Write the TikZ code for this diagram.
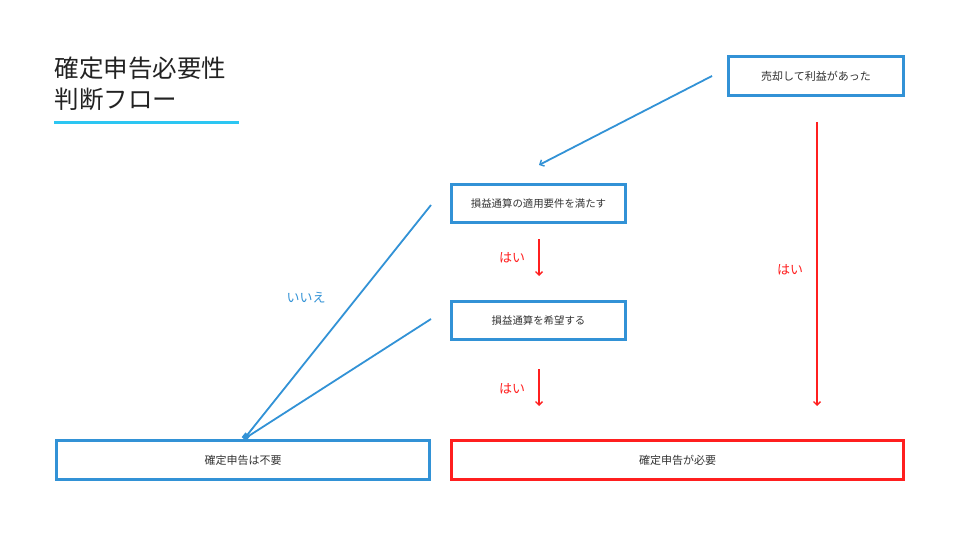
\documentclass[tikz,border=0pt]{standalone}
\usepackage{fontspec}
\setmainfont{Noto Sans CJK JP}
\usetikzlibrary{arrows.meta}
\definecolor{flowblue}{HTML}{3292D6}
\definecolor{flowred}{HTML}{FF1F1F}
\definecolor{flowcyan}{HTML}{2CC6F2}
\definecolor{flowtext}{HTML}{333333}
\definecolor{titletext}{HTML}{222222}
\tikzset{
  box/.style={draw=flowblue, line width=2.6pt, fill=white, text=flowtext,
    font=\fontsize{11}{13}\selectfont, inner sep=0pt, anchor=north west},
  smallbox/.style={box, font=\fontsize{10.4}{12}\selectfont},
  redbox/.style={box, draw=flowred},
  bluearrow/.style={draw=flowblue, line width=1.8pt, -{Straight Barb[length=3.5pt,width=7pt,line width=1.4pt]}},
  blueline/.style={draw=flowblue, line width=1.8pt},
  redarrow/.style={draw=flowred, line width=1.8pt, -{Straight Barb[length=3.5pt,width=7pt,line width=1.4pt]}},
  yeslabel/.style={text=flowred, font=\fontsize{13}{15}\selectfont},
  nolabel/.style={text=flowblue, font=\fontsize{13}{15}\selectfont},
  titlestyle/.style={anchor=west, text=titletext, font=\fontsize{24.5}{30}\selectfont, inner sep=0pt},
}
\begin{document}
\begin{tikzpicture}[x=1pt,y=-1pt]
\useasboundingbox[fill=white] (0,0) rectangle (960,540);
% title
\node[titlestyle] (t1) at (54.5,68) {確定申告必要性};
\node[titlestyle] (t2) at (54.5,99) {判断フロー};
\draw[flowcyan, line width=3.5pt] (54,122.5) -- (239,122.5);
% boxes
\node[box, minimum width=175.4pt, minimum height=39.4pt] (sell) at (727,55) {売却して利益があった};
\node[smallbox, minimum width=174.4pt, minimum height=38.4pt] (req) at (450,183) {損益通算の適用要件を満たす};
\node[smallbox, minimum width=174.4pt, minimum height=38.4pt] (wish) at (450,300) {損益通算を希望する};
\node[box, minimum width=373.4pt, minimum height=39.4pt] (noneed) at (55,439) {確定申告は不要};
\node[redbox, minimum width=452.4pt, minimum height=39.4pt] (need) at (450,439) {確定申告が必要};
% free ends
\coordinate (a1s) at (712,76);
\coordinate (a1e) at (539,165);
\coordinate (r1s) at (817,122);
\coordinate (r1e) at (817,406);
\coordinate (r2s) at (539,239);
\coordinate (r2e) at (539,276);
\coordinate (r3s) at (539,369);
\coordinate (r3e) at (539,406);
\coordinate (b1s) at (431,205);
\coordinate (b2s) at (431,319);
\coordinate (bend) at (244,439);
% connectors
\draw[bluearrow] (a1s) -- (a1e);
\draw[redarrow] (r1s) -- (r1e);
\draw[redarrow] (r2s) -- (r2e);
\draw[redarrow] (r3s) -- (r3e);
\draw[blueline] (b2s) -- (bend);
\draw[draw=flowblue, line width=1.8pt, -{Square[length=6pt,width=6pt]}] (b1s) -- (bend);
% labels
\node[yeslabel] (y1) at (512,258) {はい};
\node[yeslabel] (y2) at (512,389) {はい};
\node[yeslabel] (y3) at (790,270) {はい};
\node[nolabel] (n1) at (306,298) {いいえ};
\end{tikzpicture}
\end{document}
